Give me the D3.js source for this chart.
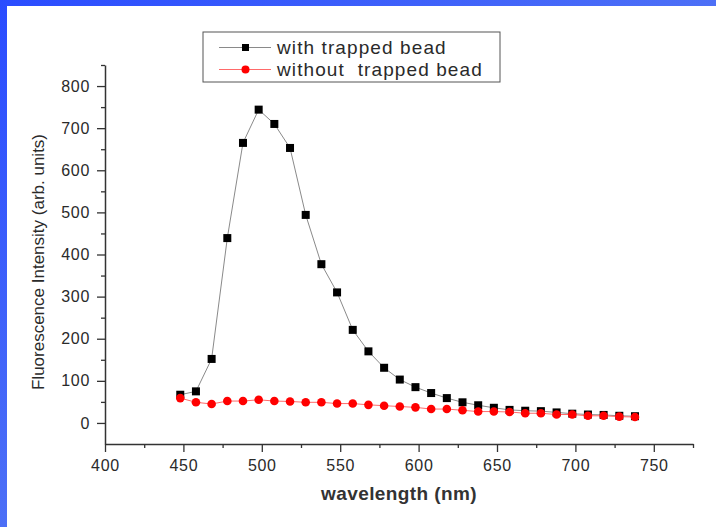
<!DOCTYPE html>
<html>
<head>
<meta charset="utf-8">
<script src="https://cdn.jsdelivr.net/npm/d3@7"></script>
<style>
  html, body { margin: 0; padding: 0; }
  body { width: 716px; height: 527px; overflow: hidden; }
  svg { display: block; font-family: "Liberation Sans", Arial, sans-serif; }
  .legend-label { white-space: pre; }
</style>
</head>
<body>
<svg id="chart" width="716" height="527"></svg>
<script>
// Emission spectra: wavelength (nm) vs fluorescence intensity (arb. units)
const wavelength = [448, 458, 468, 478, 488, 498, 508, 518, 528, 538,
                    548, 558, 568, 578, 588, 598, 608, 618, 628, 638,
                    648, 658, 668, 678, 688, 698, 708, 718, 728, 738];
const withBead = [67, 75, 152, 439, 665, 744, 710, 653, 494, 377,
                  310, 221, 170, 131, 103, 85, 71, 59, 49, 42,
                  36, 31, 29, 28, 25, 22, 20, 19, 17, 16];
const withoutBead = [59, 49, 45, 52, 52, 55, 52, 51, 49, 49,
                     46, 46, 43, 41, 39, 37, 33, 33, 30, 27,
                     27, 26, 23, 23, 20, 20, 17, 17, 15, 14];
const seriesNames = ["with trapped bead", "without  trapped bead"];
const xMajorTicks = [400, 450, 500, 550, 600, 650, 700, 750];
const xMinorTicks = [425, 475, 525, 575, 625, 675, 725, 775];
const yMajorTicks = [0, 100, 200, 300, 400, 500, 600, 700, 800];
const yMinorTicks = [50, 150, 250, 350, 450, 550, 650, 750, 850];
const xTitle = "wavelength (nm)";
const yTitle = "Fluorescence Intensity (arb. units)";

const svg = d3.select("#chart");

// blue slide frame on the top and left edges
const defs = svg.append("defs");
const grad = defs.append("linearGradient").attr("id", "frame")
  .attr("x1", "0").attr("y1", "0").attr("x2", "1").attr("y2", "1");
grad.append("stop").attr("offset", "0").attr("stop-color", "#2a4cff");
grad.append("stop").attr("offset", "1").attr("stop-color", "#6f93ee");
svg.append("rect").attr("width", 716).attr("height", 527).attr("fill", "url(#frame)");
svg.append("rect").attr("x", 7).attr("y", 6).attr("width", 709).attr("height", 521).attr("fill", "#ffffff");

const x = d3.scaleLinear().domain([400, 775]).range([105, 693]);
const y = d3.scaleLinear().domain([-50, 850]).range([444, 65]);

const axisColor = "#333";

// x axis
const gx = svg.append("g").attr("transform", `translate(0,${y(-50)})`);
gx.call(d3.axisBottom(x).tickValues(xMajorTicks).tickSize(8).tickSizeOuter(0).tickPadding(8));
const gxm = svg.append("g").attr("transform", `translate(0,${y(-50)})`);
gxm.call(d3.axisBottom(x).tickValues(xMinorTicks).tickSize(4).tickFormat(""));
gxm.select(".domain").remove();

// y axis
const gy = svg.append("g").attr("transform", `translate(${x(400)},0)`);
gy.call(d3.axisLeft(y).tickValues(yMajorTicks).tickSize(8).tickSizeOuter(0).tickPadding(7));
const gym = svg.append("g").attr("transform", `translate(${x(400)},0)`);
gym.call(d3.axisLeft(y).tickValues(yMinorTicks).tickSize(4).tickFormat(""));
gym.select(".domain").remove();

svg.selectAll(".domain").attr("stroke", axisColor).attr("stroke-width", 1.5);
svg.selectAll(".tick line").attr("stroke", axisColor).attr("stroke-width", 1.3);
svg.selectAll(".tick text")
  .attr("fill", "#2a2a2a")
  .style("font-size", "16px")
  .style("letter-spacing", "0.7px")
  .style("font-family", "'Liberation Sans', Arial, sans-serif");

// axis titles
svg.append("text")
  .attr("x", (x(400) + x(775)) / 2).attr("y", 500)
  .attr("text-anchor", "middle")
  .attr("fill", "#333")
  .style("font-size", "19px").style("font-weight", "bold").style("letter-spacing", "0.4px")
  .text(xTitle);

svg.append("text")
  .attr("transform", `translate(44,262) rotate(-90)`)
  .attr("text-anchor", "middle")
  .attr("fill", "#2a2a2a")
  .style("font-size", "17px")
  .text(yTitle);

const pts = wavelength.map((w, i) => ({ w, a: withBead[i], b: withoutBead[i] }));

const lineA = d3.line().x(d => x(d.w)).y(d => y(d.a));
const lineB = d3.line().x(d => x(d.w)).y(d => y(d.b));

// with trapped bead
svg.append("path").datum(pts).attr("d", lineA)
  .attr("fill", "none").attr("stroke", "#8a8a8a").attr("stroke-width", 1);
svg.append("g").selectAll("rect").data(pts).join("rect")
  .attr("x", d => x(d.w) - 4).attr("y", d => y(d.a) - 4)
  .attr("width", 8).attr("height", 8).attr("fill", "#000");

// without trapped bead
svg.append("path").datum(pts).attr("d", lineB)
  .attr("fill", "none").attr("stroke", "#ff6a6a").attr("stroke-width", 1);
svg.append("g").selectAll("circle").data(pts).join("circle")
  .attr("cx", d => x(d.w)).attr("cy", d => y(d.b))
  .attr("r", 4.3).attr("fill", "#ff0000");

// legend
const lg = svg.append("g");
lg.append("rect").attr("x", 203).attr("y", 32).attr("width", 297).attr("height", 50)
  .attr("fill", "#fff").attr("stroke", "#555").attr("stroke-width", 1);
const rows = [
  { name: seriesNames[0], cy: 47.5, color: "#8a8a8a", mark: "square" },
  { name: seriesNames[1], cy: 69.5, color: "#ff6a6a", mark: "circle" }
];
rows.forEach(r => {
  lg.append("line").attr("x1", 219).attr("x2", 271).attr("y1", r.cy).attr("y2", r.cy)
    .attr("stroke", r.color).attr("stroke-width", 1);
  if (r.mark === "square") {
    lg.append("rect").attr("x", 242).attr("y", r.cy - 3.5).attr("width", 7).attr("height", 7).attr("fill", "#000");
  } else {
    lg.append("circle").attr("cx", 245.5).attr("cy", r.cy).attr("r", 4).attr("fill", "#ff0000");
  }
  lg.append("text").attr("class", "legend-label").attr("x", 277).attr("y", r.cy + 6)
    .attr("fill", "#2a2a2a")
    .style("font-size", "19px").style("letter-spacing", "1.1px")
    .text(r.name);
});
</script>
</body>
</html>
